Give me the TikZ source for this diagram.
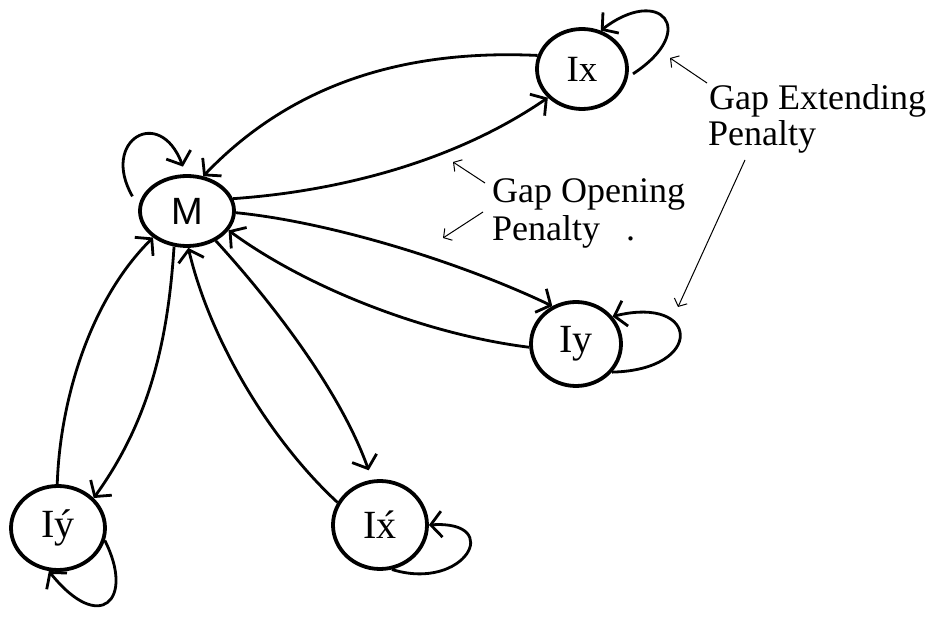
\documentclass[tikz,border=0pt]{standalone}
\usepackage{fontspec}
\setmainfont{Liberation Serif}
\newfontfamily\armfont{Liberation Sans}
\usetikzlibrary{shapes.geometric,arrows.meta}
\begin{document}
\begin{tikzpicture}[x=1pt,y=-1pt,
  state/.style={draw,ellipse,line width=3.8pt,inner sep=0pt,font=\fontsize{40}{44}\selectfont},
  edge/.style={line width=2.8pt,-{Straight Barb[length=11pt,width=26pt]}},
  note/.style={line width=1pt,-{Straight Barb[length=6pt,width=14pt]}},
  lbl/.style={anchor=base west,inner sep=0pt,font=\fontsize{36}{40}\selectfont}]
\fill[white] (0,0) rectangle (938,617);
\useasboundingbox (0,0) rectangle (938,617);
% states
\node[state,minimum width=94pt,minimum height=70pt,font=\armfont\fontsize{38}{40}\selectfont] (M) at (187,211) {M};
\node[state,minimum width=90pt,minimum height=80pt,font=\fontsize{37}{40}\selectfont] (Ix) at (582,69) {Ix};
\node[state,minimum width=90pt,minimum height=84pt] (Iy) at (576,344) {Iy};
\node[state,minimum width=94pt,minimum height=84pt] (Iyp) at (58,528) {I\'y};
\node[state,minimum width=94pt,minimum height=88pt] (Ixp) at (380,525) {I\'x};
% transitions M <-> Ix, Iy
\draw[edge] (Ix.163) .. controls (420,50) and (300,75) .. (M.65);
\draw[edge] (M.15) .. controls (330,192) and (450,165) .. (Ix.220);
\draw[edge] (M.-2) .. controls (330,222) and (460,262) .. (Iy.122);
\draw[edge] (Iy.184) .. controls (430,335) and (310,290) .. (M.-25);
% transitions M <-> Iy', Ix'
\draw[edge] (Iyp.91) .. controls (60,400) and (90,300) .. (M.218);
\draw[edge] (M.250) .. controls (168,340) and (150,420) .. (Iyp.40);
\draw[edge] (Ixp.152) .. controls (270,440) and (210,340) .. (M.272);
\draw[edge,shorten >=10pt] (M.314) .. controls (270,300) and (340,390) .. (Ixp.100);
% self loops
\draw[edge,shorten <=12pt,shorten >=8pt] (M.175) .. controls (100,140) and (160,105) .. (M.92);
\draw[edge,shorten <=6pt] (Ix.-10) .. controls (700,30) and (660,-15) .. (Ix.64);
\draw[edge] (Iy.-38) .. controls (705,370) and (700,295) .. (Iy.37);
\draw[edge] (Iyp.-15) .. controls (135,600) and (100,635) .. (Iyp.258);
\draw[edge] (Ixp.-75) .. controls (465,592) and (505,520) .. (Ixp.0);
% labels
\node[lbl] (ext1) at (709,110) {Gap Extending};
\node[lbl] (ext2) at (708,146) {Penalty};
\node[lbl] (open1) at (492,203) {Gap Opening};
\node[lbl] (open2) at (492,241) {Penalty\hspace{26pt}.};
% annotation arrows
\coordinate (oa1) at (485,183); \coordinate (oh1) at (453,162);
\coordinate (oa2) at (483,212); \coordinate (oh2) at (443,238);
\coordinate (ea1) at (707,83);  \coordinate (eh1) at (670,58);
\coordinate (ea2) at (745,160); \coordinate (eh2) at (678,307);
\draw[note] (oa1) -- (oh1);
\draw[note] (oa2) -- (oh2);
\draw[note] (ea1) -- (eh1);
\draw[note] (ea2) -- (eh2);
\end{tikzpicture}
\end{document}
